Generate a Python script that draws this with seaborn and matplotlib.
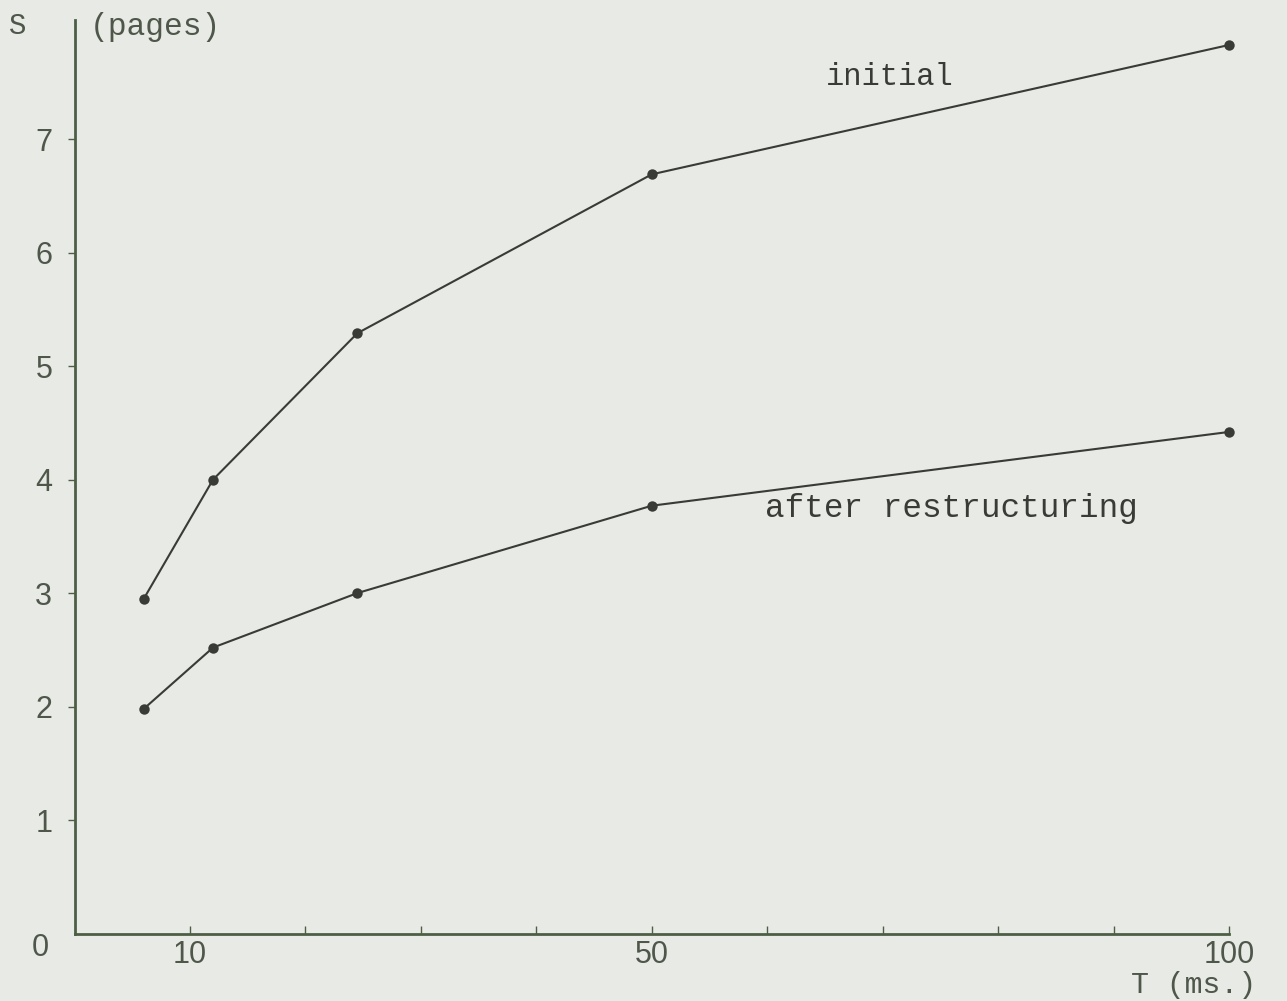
import matplotlib
matplotlib.use("Agg")
import matplotlib.pyplot as plt
import seaborn as sns
import pandas as pd

# Working-set size S (pages) against window T (ms.)
t_ms = [6, 12, 24.5, 50, 100]
s_initial = [2.95, 4.0, 5.29, 6.69, 7.83]
s_restructured = [1.98, 2.52, 3.0, 3.77, 4.42]
curve_names = ["initial", "after restructuring"]
y_ticks = [1, 2, 3, 4, 5, 6, 7]
x_labelled = [10, 50, 100]

df = pd.DataFrame({
    "T": t_ms + t_ms,
    "S": s_initial + s_restructured,
    "curve": [curve_names[0]] * len(t_ms) + [curve_names[1]] * len(t_ms),
})

paper = "#e8ebe5"
ink = "#383b36"
axis_green = "#4d5e45"
label_grey = "#4f574a"

sns.set_theme(style="white")
plt.rcParams["font.family"] = ["Liberation Sans", "DejaVu Sans"]

fig = plt.figure(figsize=(12.87, 10.01), dpi=100, facecolor=paper)
ax = fig.add_axes([0.0579, 0.0674, 0.897, 0.9126])
ax.set_facecolor(paper)

sns.lineplot(data=df, x="T", y="S", hue="curve", palette=[ink, ink],
             estimator=None, sort=False, marker="o", markersize=7.5,
             markeredgewidth=0, linewidth=1.5, legend=False, ax=ax)
for line in ax.lines:
    line.set_clip_on(False)

ax.set_xlim(0, 100)
ax.set_ylim(0, 8.05)

for side in ("top", "right"):
    ax.spines[side].set_visible(False)
for side in ("left", "bottom"):
    ax.spines[side].set_color(axis_green)
    ax.spines[side].set_linewidth(2.0)

ax.set_yticks(y_ticks)
ax.set_yticklabels([str(v) for v in y_ticks])
ax.tick_params(axis="y", direction="out", length=5, width=1, color=axis_green,
               pad=11, labelsize=22, labelcolor=label_grey, left=True)

ax.set_xticks(x_labelled)
ax.set_xticklabels([str(v) for v in x_labelled])
ax.set_xticks(list(range(10, 101, 10)), minor=True)
ax.tick_params(axis="x", which="both", direction="in", length=6, width=1,
               color=axis_green, bottom=True)
ax.tick_params(axis="x", which="major", pad=5, labelsize=22, labelcolor=label_grey)

ax.set_xlabel("")
ax.set_ylabel("")
ax.grid(False)

mono = ["Liberation Mono", "DejaVu Sans Mono"]
ax.text(890 / 1287, 1 - 77 / 1001, "initial", transform=fig.transFigure,
        ha="center", va="center", fontsize=22, family=mono, color=ink)
ax.text(951 / 1287, 1 - 509 / 1001, "after restructuring", transform=fig.transFigure,
        ha="center", va="center", fontsize=23.5, family=mono, color=ink)

fig.text(18 / 1287, 1 - 26 / 1001, "S", ha="center", va="center",
         fontsize=21, family=mono, color=label_grey)
fig.text(155 / 1287, 1 - 27 / 1001, "(pages)", ha="center", va="center",
         fontsize=22.5, family=mono, color=label_grey)
fig.text(1194 / 1287, 1 - 985 / 1001, "T (ms.)", ha="center", va="center",
         fontsize=21.5, family=mono, color=label_grey)
fig.text(40 / 1287, 1 - 948 / 1001, "0", ha="center", va="center",
         fontsize=22, color=label_grey)

fig.savefig("out.png", dpi=100, facecolor=paper)
